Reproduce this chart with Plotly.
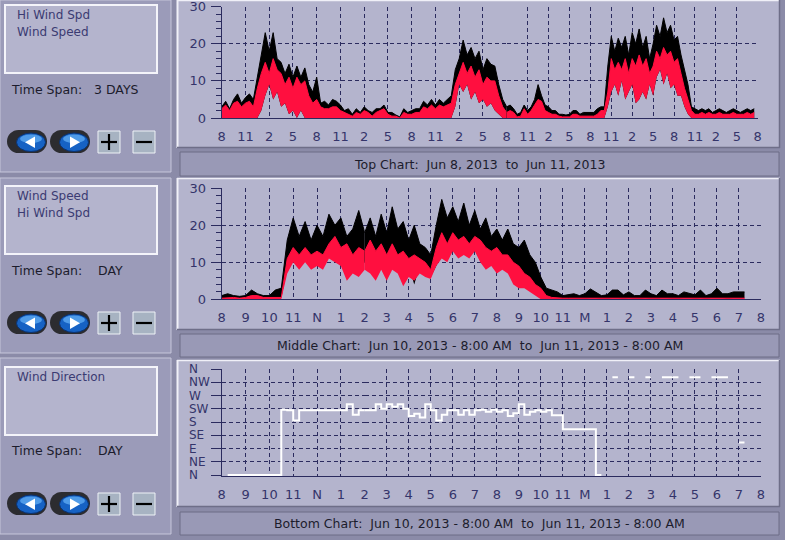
import plotly.graph_objects as go

W, H = 785, 540
FONT = "DejaVu Sans"

# ---------------- data ----------------
# Top chart: Jun 8 2013 8:00 AM -> Jun 11 2013 8:00 AM, one sample every 0.5 h
TOP_STEP_H = 0.5
TOP_HI_WIND_SPD = [
    3, 4.5, 2.5, 5, 6.5, 4, 5.5, 6.5, 5, 11,
    17, 23, 18, 23, 16, 15, 12, 14.5, 11, 14,
    11, 13.5, 9, 7, 11, 4, 4.5, 3.5, 5, 4.5,
    3.5, 2, 2.5, 1, 2.5, 1.5, 3, 2, 1.5, 2.5,
    2.5, 3.5, 1.5, 1.5, 0.8, 0.3, 2.5, 1.5, 2, 2.5,
    2.5, 4.5, 3.5, 5, 3.5, 5, 4, 5, 6, 13,
    16, 21, 17, 19, 16, 18, 13, 16, 14.5, 14,
    9, 5, 3, 3.5, 2.5, 1, 1.5, 3.5, 2, 3,
    5, 9, 6, 3.5, 3, 2, 2, 1, 1, 0.8,
    1, 2, 2, 1, 1.5, 1.5, 1.5, 1.5, 2.5, 3,
    3, 14, 22, 18, 21.5, 19, 22, 17, 23, 20,
    24, 19, 22, 16, 20, 25, 22, 27, 23, 25,
    21, 22, 17, 13, 9, 3, 2.5, 2, 2.5, 2,
    2.5, 1.5, 2, 2.5, 2, 1.5, 2, 2.5, 2, 1.5,
    2, 2.5, 2, 2.5,
]
TOP_WIND_SPEED = [
    2.5, 3.5, 2, 4, 4.5, 3, 4, 4.5, 3, 8,
    12, 15, 12, 16, 13, 12, 9, 11, 8, 11,
    9, 10, 6, 4, 5, 3, 2.5, 2.5, 3, 3,
    2, 1.5, 1, 0.5, 1.5, 1, 2, 1.5, 0.5, 1.5,
    2, 2.5, 1, 0.5, 0.5, 0, 1.5, 1, 1, 1.5,
    1.5, 3, 2.5, 3.5, 2.5, 3.5, 3, 3.5, 4, 9,
    12, 15, 12, 14, 11, 13, 9, 11, 10, 10,
    6, 3, 1.5, 2, 1.5, 0.3, 0.5, 2.5, 1, 2,
    3.5, 5, 4.5, 2, 1.5, 1, 1, 0.5, 0.3, 0.3,
    0.3, 1, 1, 0.5, 0.5, 0.5, 0.5, 0.5, 1, 2,
    2, 7, 16, 13, 15, 13, 16, 12, 16, 14,
    17, 14, 16, 12, 14, 18, 16, 19, 17, 18,
    15, 16, 12, 8, 5, 2, 1, 1, 1.5, 1,
    1.5, 1, 1, 1.5, 1, 1, 1, 1.5, 1, 1,
    1, 1.5, 1, 1.5,
]
TOP_LOW_ENVELOPE = [
    0, 0, 0, 0, 0, 0, 0, 0, 0, 0,
    2, 6, 9, 5, 7, 3, 4, 1, 2, 0,
    2, 0, 0, 0, 0, 0, 0, 0, 0, 0,
    0, 0, 0, 0, 0, 0, 0, 0, 0, 0,
    0, 0, 0, 0, 0, 0, 0, 0, 0, 0,
    0, 0, 0, 0, 0, 0, 0, 0, 0, 3,
    9, 7, 9, 5, 7, 4, 5, 3, 4, 2,
    1, 0, 0, 0, 0, 0, 0, 0, 0, 0,
    0, 0, 0, 0, 0, 0, 0, 0, 0, 0,
    0, 0, 0, 0, 0, 0, 0, 0, 0, 0,
    0, 3, 7, 9, 6, 10, 5, 7, 9, 4,
    5, 7, 5, 9, 6, 11, 13, 9, 12, 8,
    9, 6, 6, 3, 1, 0, 0, 0, 0, 0,
    0, 0, 0, 0, 0, 0, 0, 0, 0, 0,
    0, 0, 0, 0,
]

# Middle / bottom charts: Jun 10 2013 8:00 AM -> Jun 11 2013 8:00 AM, one sample every 0.25 h
DAY_STEP_H = 0.25
DAY_HI_WIND_MAX = [
    1, 1.5, 1, 0.8, 1, 2.5, 1.5, 1, 1, 2.5,
    3, 16, 22, 17, 21, 16, 20, 17, 23, 20,
    22, 17, 19, 24, 18, 22, 17, 23, 18, 25,
    19, 21, 16, 20, 15, 14, 12, 20, 27, 22,
    25, 21, 26, 20, 24, 19, 22, 17, 19, 16,
    19, 15, 14, 16, 12, 10, 6, 3, 2.5, 2,
    1, 1.2, 1.5, 1, 1.5, 2.8, 2, 1, 1.2, 2.5,
    2.5, 1.2, 2, 1, 1, 2.5, 1.5, 1, 2.5, 1.5,
    1.5, 1, 2, 1.5, 1.2, 2.5, 1, 1.5, 3, 1.5,
    1.5, 2, 2, 2,
]
DAY_HI_WIND_MIN = [
    0, 0, 0.3, 0.3, 0.3, 0.5, 0.5, 0.5, 0.3, 0.3,
    0.5, 8, 12, 11, 12, 10, 11, 12, 13, 12,
    12, 10, 9, 12, 10, 12, 9, 11, 10, 12,
    11, 8, 9, 4, 9, 8, 6, 9, 12, 13,
    14, 15, 14, 13, 15, 12, 11, 12, 11, 11,
    10, 9, 7, 6, 5, 3, 1, 0, 0.3, 0.3,
    0, 0, 0, 0, 0, 0.3, 0.3, 0, 0, 0.3,
    0.3, 0, 0.3, 0, 0, 0.3, 0, 0, 0.3, 0.3,
    0, 0, 0.3, 0.3, 0, 0.3, 0, 0.3, 0.3, 0.3,
    0, 0.3, 0.3, 0.3,
]
DAY_WIND_MAX = [
    0.3, 0.5, 0.5, 0.3, 0.5, 1, 1, 0.5, 0.5, 0.5,
    0.5, 11, 14, 12, 14, 12, 13, 12, 15, 17,
    14, 15, 12, 14, 13, 16, 13, 15, 12, 15,
    12, 13, 11, 12, 11, 10, 8, 14, 18, 15,
    18, 16, 17, 15, 17, 16, 14, 13, 14, 12,
    12, 10, 9, 7, 6, 4, 3, 1, 0.5, 0.3,
    0.3, 0.3, 0.3, 0.3, 0.3, 0.3, 0.3, 0.3, 0.3, 0.3,
    0.3, 0.3, 0.3, 0.3, 0.3, 0.3, 0.3, 0.3, 0.3, 0.3,
    0.3, 0.3, 0.3, 0.3, 0.3, 0.3, 0.3, 0.3, 0.3, 0.3,
    0.3, 0.3, 0.3, 0.3,
]
DAY_WIND_MIN = [
    0, 0, 0, 0, 0, 0, 0, 0, 0, 0,
    0, 7, 10, 8, 10, 8, 9, 8, 11, 10,
    9, 5, 7, 6, 8, 7, 5, 8, 5, 8,
    7, 3.5, 6, 5, 7, 6, 5.5, 9, 11, 10,
    13, 11, 12, 11, 13, 10, 8, 9, 7, 8,
    7, 4, 3, 3, 2, 1, 0, 0, 0, 0,
    0, 0, 0, 0, 0, 0, 0, 0, 0, 0,
    0, 0, 0, 0, 0, 0, 0, 0, 0, 0,
    0, 0, 0, 0, 0, 0, 0, 0, 0, 0,
    0, 0, 0, 0,
]
DAY_WIND_DIRECTION = [  # degrees (0 = N ... 360 = N), None = no reading
    None, 0, 0, 0, 0, 0, 0, 0, 0, 0,
    222, 220, 185, 220, 220, 220, 220, 220, 220, 220,
    220, 240, 205, 220, 220, 220, 240, 225, 240, 232,
    240, 225, 200, 208, 195, 240, 220, 185, 205, 220,
    220, 205, 220, 205, 220, 222, 215, 222, 215, 220,
    200, 210, 240, 205, 215, 220, 215, 220, 203, 203,
    155, 155, 155, 155, 155, 155, 0, 0, None, 332,
    332, None, 332, 332, None, 332, 332, None, 332, 332,
    332, 332, None, 332, 332, 332, None, 332, 332, 332,
    332, None, 110, 110,
]

TOP_TICK_STEP_H = 3
TOP_TICK_LABELS = ["8", "11", "2", "5", "8", "11", "2", "5", "8", "11", "2", "5", "8",
                   "11", "2", "5", "8", "11", "2", "5", "8", "11", "2", "5", "8"]
DAY_TICK_STEP_H = 1
DAY_TICK_LABELS = ["8", "9", "10", "11", "N", "1", "2", "3", "4", "5", "6", "7", "8",
                   "9", "10", "11", "M", "1", "2", "3", "4", "5", "6", "7", "8"]
SPEED_TICKS = [0, 10, 20, 30]
DIR_TICK_VALUES = [0, 45, 90, 135, 180, 225, 270, 315, 360]
DIR_TICK_LABELS = ["N", "NE", "E", "SE", "S", "SW", "W", "NW", "N"]

LEGENDS = [["Hi Wind Spd", "Wind Speed"], ["Wind Speed", "Hi Wind Spd"], ["Wind Direction"]]
TIME_SPANS = ["3 DAYS", "DAY", "DAY"]
CAPTIONS = [
    "Top Chart:  Jun 8, 2013  to  Jun 11, 2013",
    "Middle Chart:  Jun 10, 2013 - 8:00 AM  to  Jun 11, 2013 - 8:00 AM",
    "Bottom Chart:  Jun 10, 2013 - 8:00 AM  to  Jun 11, 2013 - 8:00 AM",
]

# ---------------- styling ----------------
PAGE_BG = "#8b8ba8"
LEFT_FILL = "#9b9bb9"
PANEL_FILL = "#b4b4cd"
CAPTION_FILL = "#9999b6"
NAVY = "#2b2b5e"
TICK_TEXT = "#34346a"
LEGEND_TEXT = "#3b3b72"
LABEL_TEXT = "#1c1c2c"
RED = "#ff0f3f"
BLACK = "#000000"


def fx(x):
    return x / W


def fy(y):
    return 1 - y / H


fig = go.Figure()

top_t = [i * TOP_STEP_H for i in range(len(TOP_HI_WIND_SPD))]
day_t = [i * DAY_STEP_H for i in range(len(DAY_HI_WIND_MAX))]


def band(t, lo, hi, color, xa, ya, name):
    fig.add_trace(go.Scatter(x=t, y=lo, mode="lines", line=dict(width=0, color=color),
                             xaxis=xa, yaxis=ya, showlegend=False, hoverinfo="skip"))
    fig.add_trace(go.Scatter(x=t, y=hi, mode="lines", line=dict(width=1, color=color),
                             fill="tonexty", fillcolor=color, name=name,
                             xaxis=xa, yaxis=ya, showlegend=False))


# top chart (two adjacent subplots)
for xa, ya in [("x", "y"), ("x2", "y2")]:
    band(top_t, TOP_LOW_ENVELOPE, TOP_HI_WIND_SPD, BLACK, xa, ya, "Hi Wind Spd")
    band(top_t, TOP_LOW_ENVELOPE, TOP_WIND_SPEED, RED, xa, ya, "Wind Speed")
# middle chart
for xa, ya in [("x3", "y3"), ("x4", "y4")]:
    band(day_t, DAY_HI_WIND_MIN, DAY_HI_WIND_MAX, BLACK, xa, ya, "Hi Wind Spd")
    band(day_t, DAY_WIND_MIN, DAY_WIND_MAX, RED, xa, ya, "Wind Speed")
# bottom chart
for xa, ya in [("x5", "y5"), ("x6", "y6")]:
    fig.add_trace(go.Scatter(x=day_t, y=DAY_WIND_DIRECTION, mode="lines",
                             line=dict(color="white", width=2, shape="hv"),
                             connectgaps=False, name="Wind Direction",
                             xaxis=xa, yaxis=ya, showlegend=False))

GRID = dict(showgrid=True, gridcolor=NAVY, gridwidth=1, griddash="4px,3px",
            zeroline=False, fixedrange=True, automargin=False, ticklabeloverflow="allow")
TICKFONT = dict(family=FONT, size=13, color=TICK_TEXT)


def x_axis(px0, px1, rng, step, labels, anchor, include_end):
    vals, texts = [], []
    for i, lab in enumerate(labels):
        v = i * step
        if rng[0] <= v <= rng[1]:
            if v == rng[0] and not include_end:
                continue
            vals.append(v)
            texts.append(lab)
    return dict(domain=[fx(px0), fx(px1)], range=rng, anchor=anchor,
                tickmode="array", tickvals=vals, ticktext=texts,
                showline=True, linecolor=NAVY, linewidth=1, ticks="",
                tickfont=TICKFONT, ticklabelstandoff=6, **GRID)


def y_axis(py0, py1, rng, vals, anchor, left):
    d = dict(domain=[fy(py1), fy(py0)], range=rng, anchor=anchor,
             tickmode="array", tickvals=vals, **GRID)
    if left:
        d.update(showline=True, linecolor=NAVY, linewidth=1, ticks="outside",
                 ticklen=10, tickcolor=NAVY, tickwidth=1, tickfont=TICKFONT,
                 ticklabelstandoff=2)
    else:
        d.update(showline=False, ticks="", showticklabels=False)
    return d


TOP_Y = (6.7, 118.0)
MID_Y = (188.3, 299.3)
BOT_Y = (369.0, 475.9)
TOP_X = (221.7, 506.7, 757.7)
DAY_X = (221.7, 364.7, 761.0)
TOP_SPLIT, TOP_END = 36, 72
DAY_SPLIT, DAY_END = 6, 24

layout_axes = dict(
    xaxis=x_axis(TOP_X[0], TOP_X[1], [0, TOP_SPLIT], TOP_TICK_STEP_H, TOP_TICK_LABELS, "y", True),
    xaxis2=x_axis(TOP_X[1], TOP_X[2], [TOP_SPLIT, TOP_END], TOP_TICK_STEP_H, TOP_TICK_LABELS, "y2", False),
    xaxis3=x_axis(DAY_X[0], DAY_X[1], [0, DAY_SPLIT], DAY_TICK_STEP_H, DAY_TICK_LABELS, "y3", True),
    xaxis4=x_axis(DAY_X[1], DAY_X[2], [DAY_SPLIT, DAY_END], DAY_TICK_STEP_H, DAY_TICK_LABELS, "y4", False),
    xaxis5=x_axis(DAY_X[0], DAY_X[1], [0, DAY_SPLIT], DAY_TICK_STEP_H, DAY_TICK_LABELS, "y5", True),
    xaxis6=x_axis(DAY_X[1], DAY_X[2], [DAY_SPLIT, DAY_END], DAY_TICK_STEP_H, DAY_TICK_LABELS, "y6", False),
    yaxis=y_axis(*TOP_Y, [0, 30], SPEED_TICKS, "x", True),
    yaxis2=y_axis(*TOP_Y, [0, 30], SPEED_TICKS, "x2", False),
    yaxis3=y_axis(*MID_Y, [0, 30], SPEED_TICKS, "x3", True),
    yaxis4=y_axis(*MID_Y, [0, 30], SPEED_TICKS, "x4", False),
    yaxis5=y_axis(*BOT_Y, [-3, 360], DIR_TICK_VALUES, "x5", True),
    yaxis6=y_axis(*BOT_Y, [-3, 360], DIR_TICK_VALUES, "x6", False),
)
layout_axes["yaxis"]["minor"] = dict(ticks="outside", ticklen=5, dtick=2, tickcolor=NAVY, showgrid=False)
layout_axes["yaxis3"]["minor"] = dict(ticks="outside", ticklen=5, dtick=2, tickcolor=NAVY, showgrid=False)
layout_axes["yaxis5"]["showticklabels"] = False

shapes = []
annotations = []


def rect(x0, y0, x1, y1, fill, line=None, lw=0, layer="below"):
    shapes.append(dict(type="rect", xref="paper", yref="paper", x0=fx(x0), x1=fx(x1),
                       y0=fy(y1), y1=fy(y0), fillcolor=fill, layer=layer,
                       line=dict(color=line or fill, width=lw)))


def seg(x0, y0, x1, y1, color, lw=1, layer="below"):
    shapes.append(dict(type="line", xref="paper", yref="paper", x0=fx(x0), x1=fx(x1),
                       y0=fy(y0), y1=fy(y1), layer=layer, line=dict(color=color, width=lw)))


def ellipse(x0, y0, x1, y1, fill, line=None, lw=0, layer="above"):
    shapes.append(dict(type="circle", xref="paper", yref="paper", x0=fx(x0), x1=fx(x1),
                       y0=fy(y1), y1=fy(y0), fillcolor=fill, layer=layer,
                       line=dict(color=line or fill, width=lw)))


def tri(pts, fill):
    p = "M " + " L ".join(f"{fx(a):.5f},{fy(b):.5f}" for a, b in pts) + " Z"
    shapes.append(dict(type="path", xref="paper", yref="paper", path=p, fillcolor=fill,
                       layer="above", line=dict(width=0, color=fill)))


def text(x, y, s, size, color, anchor="left"):
    annotations.append(dict(xref="paper", yref="paper", x=fx(x), y=fy(y), text=s,
                            showarrow=False, xanchor=anchor, yanchor="middle",
                            font=dict(family=FONT, size=size, color=color)))


# left column panels
LEFT_PANELS = [(0, 172), (178, 353), (358, 534)]
LEGEND_BOXES = [(5, 73), (186, 254), (367, 435)]
TIME_SPAN_Y = [89.3, 270, 450.7]
BUTTON_Y = [130, 311, 492]
TIME_SPAN_X = [91.7, 96, 96]
for k in range(3):
    py0, py1 = LEFT_PANELS[k]
    rect(0, py0, 171, py1, LEFT_FILL, "#c6c6da", 1)
    ly0, ly1 = LEGEND_BOXES[k]
    rect(5, ly0, 157, ly1, PANEL_FILL, "#f4f4fa", 2)
    for j, s in enumerate(LEGENDS[k]):
        text(15, ly0 + 9.5 + 17.5 * j, s, 12, LEGEND_TEXT)
    text(9, TIME_SPAN_Y[k], "Time Span:", 12.5, LABEL_TEXT)
    text(TIME_SPAN_X[k], TIME_SPAN_Y[k], TIME_SPANS[k], 12.5, LABEL_TEXT)
    by = BUTTON_Y[k]
    for (bx0, bx1, direction) in [(7, 47, "left"), (50, 90, "right")]:
        r = 11.5
        ellipse(bx0, by, bx0 + 2 * r, by + 23, "#2c2c30", layer="above")
        ellipse(bx1 - 2 * r, by, bx1, by + 23, "#2c2c30", layer="above")
        rect(bx0 + r, by, bx1 - r, by + 23, "#2c2c30", layer="above")
        ellipse(bx0 + 9.5, by + 3, bx1 - 1.5, by + 21.5, "#1662c4", "#0b3270", 1)
        ellipse(bx0 + 13, by + 4.5, bx1 - 5, by + 13, "#4f9be8")
        cx = (bx0 + 9.5 + bx1 - 1.5) / 2
        if direction == "left":
            tri([(cx - 6, by + 12.3), (cx + 4, by + 6.5), (cx + 4, by + 18)], "white")
        else:
            tri([(cx + 6, by + 12.3), (cx - 4, by + 6.5), (cx - 4, by + 18)], "white")
    for (qx0, qx1, plus) in [(98, 120, True), (133, 155, False)]:
        rect(qx0, by + 1, qx1, by + 23, "#a7b3c2", "#eef2f6", 1, layer="above")
        seg(qx0 + 3, by + 12, qx1 - 3, by + 12, "#000000", 2.2, layer="above")
        if plus:
            seg((qx0 + qx1) / 2, by + 4, (qx0 + qx1) / 2, by + 20, "#000000", 2.2, layer="above")

# right column chart panels and captions
CHART_PANELS = [(0, 148), (178, 330), (360, 507)]
CAPTION_BARS = [(152, 176), (334, 357), (512, 535)]
for k in range(3):
    py0, py1 = CHART_PANELS[k]
    rect(177, py0, 780, py1, PANEL_FILL)
    seg(177.5, py0, 177.5, py1, "#f0f0f8", 2)
    seg(177, py0 + 0.5, 780, py0 + 0.5, "#f0f0f8", 1.5)
    seg(779.5, py0, 779.5, py1, "#6e6e88", 1.5)
    seg(177, py1 - 0.5, 780, py1 - 0.5, "#6e6e88", 1.5)
    cy0, cy1 = CAPTION_BARS[k]
    rect(180, cy0, 779, cy1, CAPTION_FILL, "#6c6c86", 1)
    text(479.5, (cy0 + cy1) / 2, CAPTIONS[k], 12.5, LABEL_TEXT, anchor="center")

# bottom chart compass labels (left aligned in the reference)
for v, lab in zip(DIR_TICK_VALUES, DIR_TICK_LABELS):
    annotations.append(dict(xref="paper", yref="y5", x=fx(187), y=v, text=lab, showarrow=False,
                            xanchor="left", yanchor="middle",
                            font=dict(family=FONT, size=12, color=TICK_TEXT)))

fig.update_layout(
    width=W, height=H, margin=dict(l=0, r=0, t=0, b=0, pad=0, autoexpand=False),
    paper_bgcolor=PAGE_BG, plot_bgcolor=PANEL_FILL,
    showlegend=False, shapes=shapes, annotations=annotations,
    hovermode=False, **layout_axes,
)

fig.write_html(
    "out.html",
    config={"displayModeBar": False, "staticPlot": True},
    post_script="document.body.style.margin='0px';document.body.style.overflow='hidden';",
)
